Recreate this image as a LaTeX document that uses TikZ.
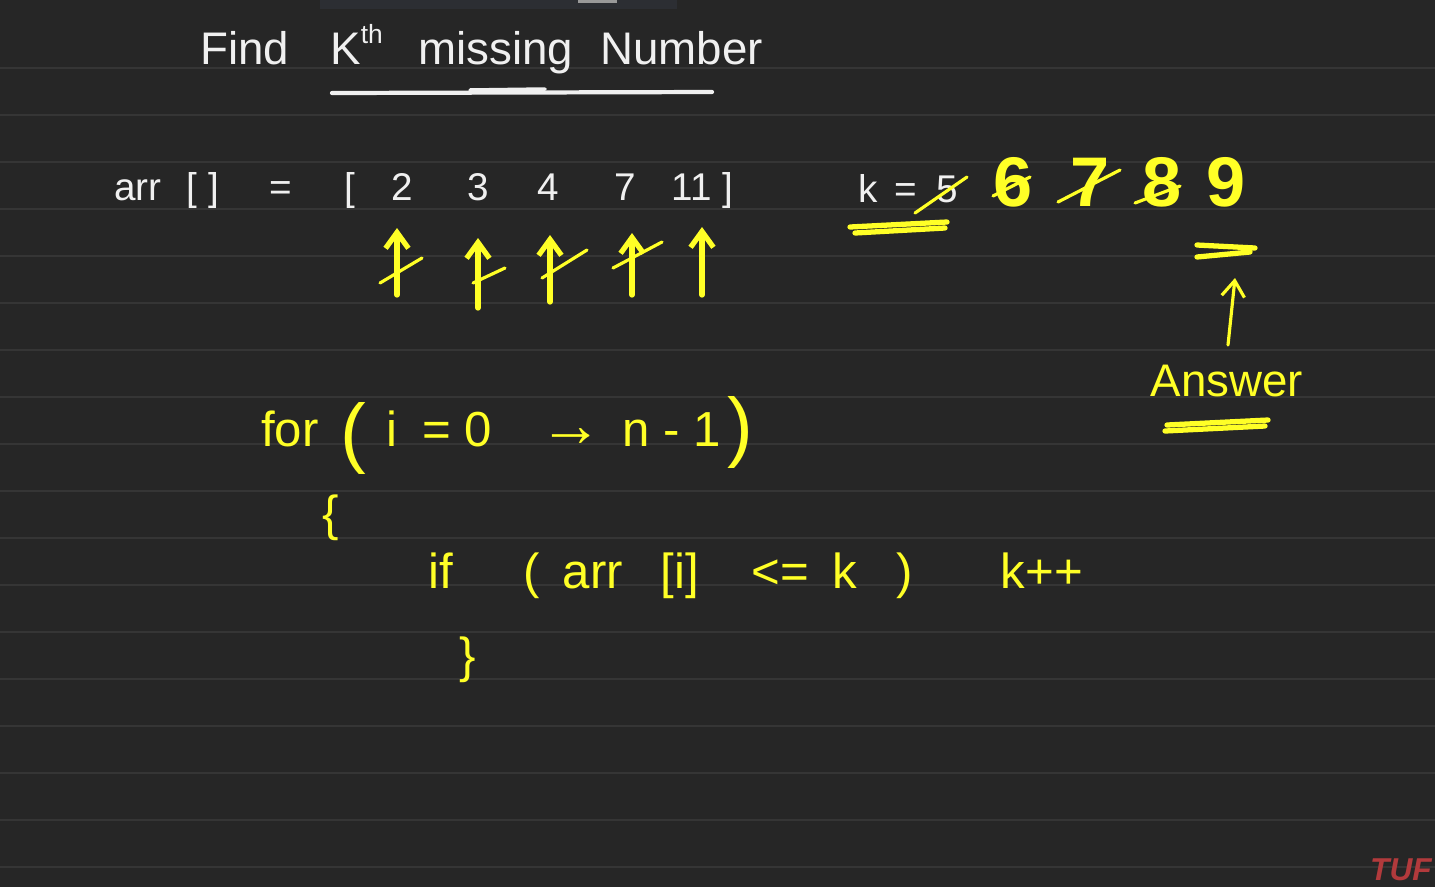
\documentclass[tikz,border=0pt]{standalone}
\usepackage{fontspec}
\setmainfont{Liberation Sans}
\usetikzlibrary{arrows.meta}
\definecolor{board}{HTML}{262626}
\definecolor{ruling}{HTML}{353535}
\definecolor{band}{HTML}{2C2E33}
\definecolor{chalk}{HTML}{F0F0F0}
\definecolor{marker}{HTML}{FFFF26}
\definecolor{tufred}{HTML}{B23A3C}

\begin{document}
\begin{tikzpicture}[x=0.02cm, y=-0.02cm, >={Straight Barb[length=9pt,width=13pt]},
    wtxt/.style={text=chalk, inner sep=0pt, anchor=base, font=\fontsize{22}{26}\selectfont},
    ttl/.style={text=chalk, inner sep=0pt, anchor=base west, font=\fontsize{26}{30}\selectfont},
    ytxt/.style={text=marker, inner sep=0pt, anchor=base, font=\fontsize{28}{32}\selectfont},
    ybig/.style={text=marker, inner sep=0pt, anchor=base, font=\fontsize{40}{44}\selectfont\bfseries},
    hl/.style={draw=marker, line width=1.8pt, line cap=round},
    hlthick/.style={draw=marker, line width=3pt, line cap=round}]
    % board
    \fill[board] (0,0) rectangle (1435,887);
    \useasboundingbox (0,0) rectangle (1435,887);
    \fill[band] (320,0) rectangle (677,9);
    \fill[black!40!white] (578,0) rectangle (617,3);
    \foreach \y in {68,115,...,869}
      \draw[ruling, line width=1.2pt] (0,\y) -- (1435,\y);

    % title
    \node[ttl] (find) at (200,64) {Find};
    \node[ttl] (kth) at (330,64) {K\raisebox{0.45em}{\fontsize{15}{17}\selectfont th}};
    \node[ttl] (missing) at (418,64) {missing};
    \node[ttl] (number) at (600,64) {Number};
    \draw[chalk, line width=2.4pt, line cap=round] (332,93) -- (712,92);
    \draw[chalk, line width=2pt, line cap=round] (470,90) -- (545,89);

    % array
    \node[wtxt] (arr) at (138,200) {arr};
    \node[wtxt] (brk) at (203,200) {[ ]};
    \node[wtxt] (eq) at (281,200) {=};
    \node[wtxt] (lb) at (350,200) {[};
    \node[wtxt] (e2) at (402,200) {2};
    \node[wtxt] (e3) at (478,200) {3};
    \node[wtxt] (e4) at (548,200) {4};
    \node[wtxt] (e7) at (625,200) {7};
    \node[wtxt] (e11) at (692,200) {11};
    \node[wtxt] (rb) at (728,200) {]};

    % pointers under the array
    \coordinate (p2) at (397,295);  \coordinate (q2) at (397,228);
    \coordinate (p3) at (478,308);  \coordinate (q3) at (478,238);
    \coordinate (p4) at (550,302);  \coordinate (q4) at (550,235);
    \coordinate (p7) at (632,295);  \coordinate (q7) at (632,233);
    \coordinate (p11) at (702,295); \coordinate (q11) at (702,227);
    \foreach \e in {2,3,4,7,11}
      \draw[hlthick, ->] (p\e) -- (q\e);
    \draw[hl] (380,283) -- (422,258);
    \draw[hl] (473,283) -- (505,268);
    \draw[hl] (542,278) -- (587,250);
    \draw[hl] (613,268) -- (662,242);

    % k counter
    \node[wtxt] (kk) at (868,202) {k};
    \node[wtxt] (keq) at (906,202) {=};
    \node[wtxt] (k5) at (947,202) {5};
    \draw[hl] (915,213) -- (967,177);
    \draw[hlthick] (850,227) -- (947,222);
    \draw[hlthick] (855,233) -- (945,228);
    \node[ybig] (k6) at (1013,206) {6};
    \node[ybig] (k7) at (1090,206) {7};
    \node[ybig] (k8) at (1162,206) {8};
    \node[ybig] (k9) at (1226,206) {9};
    \draw[hl] (993,196) -- (1030,177);
    \draw[hl] (1058,202) -- (1120,170);
    \draw[hl] (1135,203) -- (1180,186);
    \draw[hlthick] (1197,245) -- (1255,248);
    \draw[hlthick] (1197,257) -- (1250,252);

    % answer
    \node[ytxt, font=\fontsize{26}{30}\selectfont] (ans) at (1227,396) {Answer};
    \coordinate (ansup) at (1228,345);
    \coordinate (anstip) at (1235,278);
    \draw[hl, ->] (ansup) -- (anstip);
    \draw[hlthick] (1167,425) -- (1268,420);
    \draw[hlthick] (1165,431) -- (1265,426);

    % loop
    \node[ytxt] (for) at (290,446) {for};
    \node[ytxt, font=\fontsize{44}{48}\selectfont] (lp) at (353,458) {(};
    \node[ytxt] (ieq) at (392,446) {i};
    \node[ytxt] (zero) at (457,446) {= 0};
    \node[ytxt, font=\fontsize{36}{40}\selectfont] (to) at (571,446) {→};
    \node[ytxt] (nm1) at (672,446) {n - 1};
    \node[ytxt, font=\fontsize{44}{48}\selectfont] (rp) at (740,452) {)};
    \node[ytxt] (open) at (331,530) {\{};

    % condition
    \node[ytxt] (if) at (441,588) {if};
    \node[ytxt] (clp) at (532,588) {(};
    \node[ytxt] (arri) at (593,588) {arr};
    \node[ytxt] (idx) at (680,588) {[i]};
    \node[ytxt] (le) at (780,588) {<=};
    \node[ytxt] (ck) at (845,588) {k};
    \node[ytxt] (crp) at (905,588) {)};
    \node[ytxt] (inc) at (1042,588) {k++};
    \node[ytxt] (close) at (468,672) {\}};

    % watermark
    \node[text=tufred, inner sep=0pt, anchor=base east,
          font=\fontsize{18}{20}\selectfont\bfseries\itshape] (tuf) at (1432,880) {TUF};
\end{tikzpicture}
\end{document}
